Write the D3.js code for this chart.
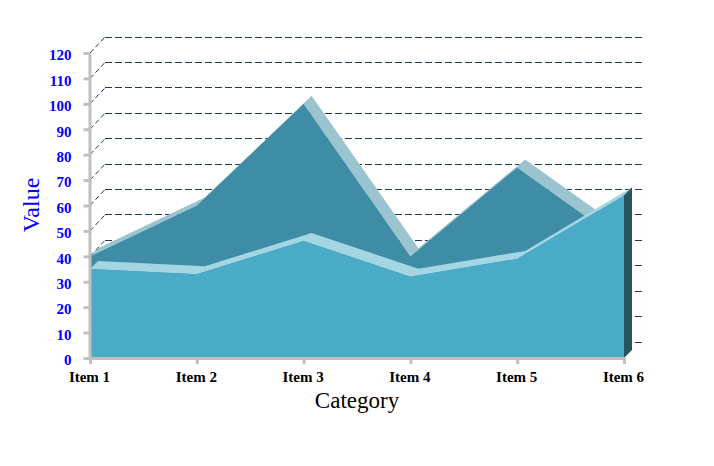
<!doctype html>
<html lang="en">
<head>
  <meta charset="utf-8">
  <title>Area 3D</title>
  <style>
  html, body { margin: 0; background: #fff; }
  svg { display: block; }
  text { font-family: "Liberation Serif", serif; }
  .axis path, .axis line { stroke: #c0c0c0; stroke-width: 3; }
  .axis text { font-size: 15px; font-weight: bold; }
  .grid { stroke: #1f3a56; stroke-width: 1; stroke-dasharray: 7 3; fill: none; shape-rendering: crispEdges; }
  .diag { stroke: #1f3a56; stroke-width: 1; stroke-dasharray: 5 3; fill: none; }
  </style>
</head>
<body>
  <div id="chart"></div>
  <script src="https://d3js.org/d3.v7.min.js"></script>
  <script>
var categories = ["Item 1", "Item 2", "Item 3", "Item 4", "Item 5", "Item 6"];
var backValues = [40, 60, 100, 40, 75, 45];
var frontValues = [35, 33, 46, 32, 39, 64];
var yTicks = [0, 10, 20, 30, 40, 50, 60, 70, 80, 90, 100, 110, 120];

var width = 714, height = 466;
var x = d3.scalePoint().domain(categories).range([90, 624]);
var y = d3.scaleLinear().domain([0, 120]).range([358, 53]);

var wall = { dx: 15, dy: -16 };   // depth of the back wall
var slab = { dx: 8, dy: -8 };     // depth of each area

var svg = d3.select("#chart").append("svg")
    .attr("width", width)
    .attr("height", height);

// back wall lines
svg.append("g").selectAll("path").data(yTicks.slice(1)).enter().append("path")
    .attr("class", "diag")
    .attr("d", function(d) {
      return d3.line()([[90, y(d)], [90 + wall.dx, y(d) + wall.dy]]);
    });
svg.append("g").selectAll("path").data(yTicks).enter().append("path")
    .attr("class", "grid")
    .attr("d", function(d) {
      return d3.line()([[90 + wall.dx, y(d) + wall.dy], [642, y(d) + wall.dy]]);
    });

var area = d3.area()
    .x(function(d, i) { return x(categories[i]); })
    .y0(y(0))
    .y1(function(d) { return y(d); });

function topStrip(values) {
  var pts = values.map(function(d, i) { return [x(categories[i]), y(d)]; });
  var back = pts.map(function(p) { return [p[0] + slab.dx, p[1] + slab.dy]; }).reverse();
  return d3.line()(pts.concat(back)) + "Z";
}

function drawSeries(values, stripColor, faceColor) {
  svg.append("path").attr("d", topStrip(values)).attr("fill", stripColor);
  svg.append("path").attr("d", area(values)).attr("fill", faceColor);
}

drawSeries(backValues, "#9ac4cf", "#3e8ca5");
drawSeries(frontValues, "#a3d5e3", "#4aabc6");

// right side of the front area
var last = frontValues[frontValues.length - 1];
var xEnd = x(categories[categories.length - 1]);
svg.append("path")
    .attr("fill", "#27545f")
    .attr("d", d3.line()([
      [xEnd, y(0)],
      [xEnd + slab.dx, y(0) + slab.dy],
      [xEnd + slab.dx, y(last) + slab.dy],
      [xEnd, y(last)]
    ]) + "Z");

// axes
var yAxis = svg.append("g").attr("class", "axis")
    .attr("transform", "translate(89.5,0)")
    .call(d3.axisLeft(y).tickValues(yTicks).tickSize(6).tickPadding(12).tickSizeOuter(0));
yAxis.selectAll("text").attr("fill", "#0000ff").attr("dy", "0.45em");

var xAxis = svg.append("g").attr("class", "axis")
    .attr("transform", "translate(0,358)")
    .call(d3.axisBottom(x).tickSize(6).tickPadding(7).tickSizeOuter(0));
xAxis.selectAll("text").attr("fill", "#000").attr("dx", -1);

svg.append("text")
    .attr("transform", "translate(39,205) rotate(-90)")
    .attr("text-anchor", "middle")
    .attr("font-size", 24)
    .attr("fill", "#0000ff")
    .text("Value");

svg.append("text")
    .attr("x", 357)
    .attr("y", 408)
    .attr("text-anchor", "middle")
    .attr("font-size", 23)
    .attr("fill", "#000")
    .text("Category");
  </script>
</body>
</html>
